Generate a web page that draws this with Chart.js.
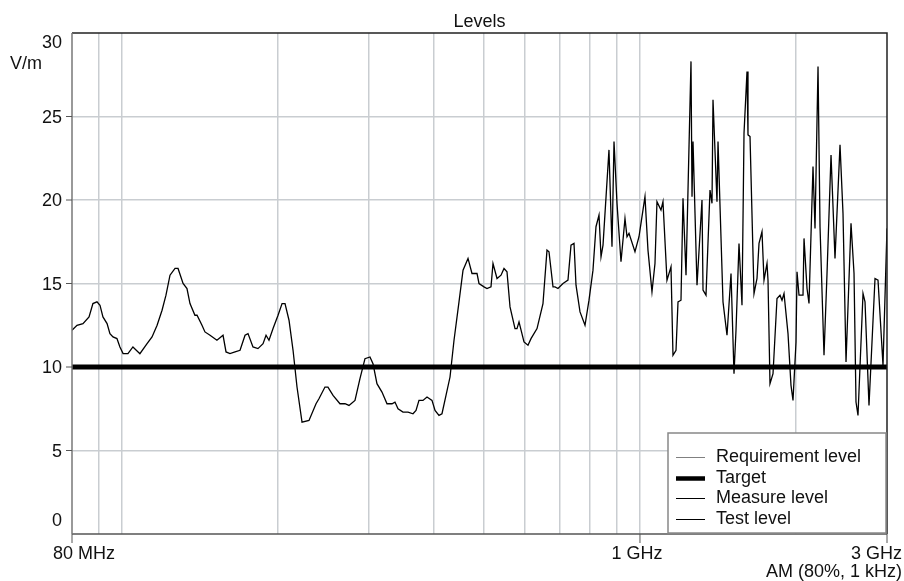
<!DOCTYPE html>
<html>
<head>
<meta charset="utf-8">
<title>Levels</title>
<script src="https://cdn.jsdelivr.net/npm/chart.js@4.4.1/dist/chart.umd.min.js"></script>
<style>
  html, body { margin: 0; padding: 0; background: #fff; }
</style>
</head>
<body>
<canvas id="myChart" width="904" height="581"></canvas>
<script>
// frequencies of the measured sweep, MHz
var freqMHz = [
  80, 81.8, 84.0, 86.3, 87.8, 89.4, 90.6, 91.8, 93.5, 94.7,
  96.0, 97.7, 99.0, 100.4, 102.6, 104.9, 108.2, 111.7, 114.2, 116.8,
  119.4, 121.5, 123.7, 126.5, 128.2, 131.1, 133.4, 135.2, 138.2, 139.5,
  142.6, 144.5, 147.8, 152.4, 156.6, 158.7, 161.5, 165.2, 168.9, 172.7,
  175.0, 178.9, 182.9, 187.1, 189.6, 192.1, 195.6, 200.0, 203.6, 206.3,
  210.0, 213.8, 217.6, 222.5, 229.5, 236.8, 239.9, 246.4, 249.7, 255.4,
  263.4, 269.4, 274.2, 281.6, 287.9, 294.4, 301.0, 305.1, 310.5, 317.5,
  324.7, 332.0, 336.4, 341.0, 348.6, 356.5, 364.5, 369.4, 374.3, 381.0,
  387.9, 396.6, 402.0, 409.1, 414.6, 422.1, 429.7, 437.4, 447.2, 455.3,
  465.5, 473.8, 484.5, 488.8, 499.8, 506.5, 515.6, 520.2, 529.6, 539.1,
  546.3, 553.6, 561.1, 573.7, 578.8, 584.0, 597.1, 607.8, 616.0, 632.7,
  649.7, 661.4, 667.3, 679.3, 685.4, 694.5, 710.2, 726.1, 735.9, 745.8,
  752.5, 766.0, 783.2, 797.2, 811.5, 822.4, 833.5, 841.0, 848.5, 871.3,
  883.1, 891.0, 902.9, 919.1, 935.6, 944.0, 952.4, 978.1, 995.7, 1004.6,
  1022.6, 1036.3, 1054.9, 1069.1, 1078.6, 1098.0, 1107.8, 1127.7, 1148.0, 1158.2,
  1173.9, 1184.4, 1200.2, 1211.0, 1227.3, 1254.8, 1260.5, 1266.1, 1288.8, 1317.7,
  1323.7, 1341.4, 1365.5, 1377.7, 1383.8, 1408.6, 1415.0, 1446.7, 1472.7, 1499.2,
  1519.3, 1532.8, 1553.4, 1574.3, 1588.4, 1609.7, 1616.8, 1631.4, 1660.7, 1682.9,
  1698.0, 1720.7, 1736.1, 1759.5, 1767.3, 1783.0, 1807.1, 1839.4, 1864.2, 1880.8,
  1897.7, 1931.7, 1957.6, 1975.1, 2001.7, 2010.7, 2028.6, 2065.0, 2074.2, 2102.1,
  2120.7, 2158.8, 2178.1, 2207.5, 2227.2, 2267.0, 2297.6, 2338.9, 2380.6, 2434.3,
  2466.9, 2500.2, 2556.3, 2590.8, 2613.7, 2637.0, 2696.5, 2720.6, 2769.2, 2844.2,
  2882.5, 2947.2, 3000
];
// measured field strength, V/m
var measureLevel = [
  12.2, 12.5, 12.6, 13.0, 13.8, 13.9, 13.7, 13.0, 12.6, 12.0,
  11.8, 11.7, 11.2, 10.8, 10.8, 11.2, 10.8, 11.4, 11.8, 12.5,
  13.4, 14.3, 15.5, 15.9, 15.9, 15.0, 14.7, 13.8, 13.1, 13.1,
  12.5, 12.1, 11.9, 11.6, 11.9, 10.9, 10.8, 10.9, 11.0, 11.9,
  12.0, 11.2, 11.1, 11.4, 11.9, 11.6, 12.3, 13.1, 13.8, 13.8,
  12.8, 11.0, 8.8, 6.7, 6.8, 7.8, 8.1, 8.8, 8.8, 8.3,
  7.8, 7.8, 7.7, 8.0, 9.3, 10.5, 10.6, 10.2, 9.0, 8.5,
  7.8, 7.8, 7.9, 7.5, 7.3, 7.3, 7.2, 7.4, 8.0, 8.0,
  8.2, 8.0, 7.4, 7.1, 7.2, 8.3, 9.4, 11.6, 13.9, 15.8,
  16.5, 15.6, 15.6, 15.0, 14.8, 14.7, 14.8, 16.2, 15.3, 15.5,
  15.9, 15.7, 13.6, 12.3, 12.3, 12.7, 11.5, 11.3, 11.7, 12.3,
  13.8, 17.0, 16.9, 14.8, 14.8, 14.7, 15.0, 15.2, 17.3, 17.4,
  14.9, 13.3, 12.5, 14.0, 15.8, 18.4, 19.1, 16.6, 17.3, 23.0,
  17.2, 23.5, 19.8, 16.3, 18.9, 17.8, 18.0, 16.9, 17.8, 18.6,
  20.2, 17.0, 14.5, 16.2, 19.9, 19.4, 19.9, 15.2, 16.0, 10.7,
  11.0, 13.9, 14.0, 20.1, 15.5, 28.3, 20.2, 23.5, 14.9, 20.0,
  14.6, 14.3, 20.6, 19.8, 26.0, 19.9, 23.5, 13.9, 11.9, 15.6,
  9.6, 12.2, 17.4, 13.7, 24.0, 27.7, 23.9, 23.8, 14.4, 15.3,
  17.4, 18.1, 15.2, 16.2, 15.2, 9.0, 9.6, 14.1, 14.3, 14.0,
  14.4, 12.0, 8.9, 8.0, 11.5, 15.7, 14.3, 14.3, 17.7, 14.7,
  13.8, 22.0, 18.3, 28.0, 18.4, 10.7, 15.6, 22.7, 16.5, 23.3,
  19.2, 10.3, 18.6, 15.6, 7.9, 7.1, 14.4, 13.9, 7.7, 15.3,
  15.2, 10.1, 18.3
];
var targetLevel = 10;
var requirementLevel = 10;
var testLevel = 10;

// axis
var gridFreqs = [80, 90, 100, 200, 300, 400, 500, 600, 700, 800, 900, 1000, 2000, 3000];
var xLabelFreqs = [80, 1000, 3000];
var xLabelTexts = ["80 MHz", "1 GHz", "3 GHz"];
var yTicks = [0, 5, 10, 15, 20, 25, 30];

var FONT = '18px "Liberation Sans", Arial, sans-serif';
var GRID = "#c9cdd1";

function flatLine(v) {
  return [{ x: 80, y: v }, { x: 3000, y: v }];
}

var measurePoints = freqMHz.map(function (f, i) {
  return { x: f, y: measureLevel[i] };
});

var decor = {
  id: "decor",
  afterDraw: function (chart) {
    var ctx = chart.ctx;
    var a = chart.chartArea;
    var xs = chart.scales.x;
    var ys = chart.scales.y;
    ctx.save();

    // frame
    ctx.lineWidth = 1.5;
    ctx.strokeStyle = "#222";
    ctx.beginPath();
    ctx.moveTo(a.left, a.top); ctx.lineTo(a.right, a.top); ctx.lineTo(a.right, a.bottom);
    ctx.stroke();
    ctx.strokeStyle = "#555";
    ctx.beginPath();
    ctx.moveTo(a.right, a.bottom); ctx.lineTo(a.left, a.bottom);
    ctx.stroke();
    ctx.strokeStyle = "#777";
    ctx.beginPath();
    ctx.moveTo(a.left, a.bottom); ctx.lineTo(a.left, a.top);
    ctx.stroke();

    ctx.fillStyle = "#111";
    ctx.font = FONT;

    // title
    ctx.textAlign = "center";
    ctx.fillText("Levels", (a.left + a.right) / 2, 27);

    // y ticks
    ctx.textAlign = "right";
    ctx.strokeStyle = "#555";
    ctx.lineWidth = 1;
    yTicks.forEach(function (v) {
      var py = ys.getPixelForValue(v);
      var base = py + 6;
      if (v === 30) base = py + 15;
      if (v === 0) base = py - 8;
      if (v !== 0 && v !== 30) {
        ctx.beginPath();
        ctx.moveTo(a.left - 6, py); ctx.lineTo(a.left, py);
        ctx.stroke();
      }
      ctx.fillText(String(v), a.left - 10, base);
    });
    ctx.textAlign = "left";
    ctx.fillText("V/m", 10, 69);

    // x ticks
    xLabelFreqs.forEach(function (f, i) {
      var px = xs.getPixelForValue(f);
      ctx.beginPath();
      ctx.moveTo(px, a.bottom); ctx.lineTo(px, a.bottom + 9);
      ctx.stroke();
      if (i === 0) { ctx.textAlign = "left"; ctx.fillText(xLabelTexts[i], px - 19, 559); }
      else if (i === xLabelFreqs.length - 1) { ctx.textAlign = "right"; ctx.fillText(xLabelTexts[i], px + 15, 559); }
      else { ctx.textAlign = "center"; ctx.fillText(xLabelTexts[i], px - 3, 559); }
    });
    ctx.textAlign = "right";
    ctx.fillText("AM (80%, 1 kHz)", a.right + 15, 577);

    // legend
    var bx = 668, by = 433, bw = 218, bh = 100;
    ctx.fillStyle = "#fff";
    ctx.fillRect(bx, by, bw, bh);
    ctx.strokeStyle = "#888";
    ctx.lineWidth = 1.5;
    ctx.strokeRect(bx, by, bw, bh);
    ctx.textAlign = "left";
    chart.data.datasets.forEach(function (ds, i) {
      var base = 462 + i * 20.5;
      var ly = Math.round(base - 5) + 0.5;
      ctx.strokeStyle = ds.borderColor;
      ctx.lineWidth = ds.label === "Target" ? 4.5 : 1;
      ctx.beginPath();
      ctx.moveTo(676, ly); ctx.lineTo(705, ly);
      ctx.stroke();
      ctx.fillStyle = "#111";
      ctx.fillText(ds.label, 716, base);
    });
    ctx.restore();
  }
};

new Chart("myChart", {
  type: "line",
  data: {
    datasets: [
      { label: "Requirement level", data: flatLine(requirementLevel), borderColor: "#808080", borderWidth: 1, pointRadius: 0, order: 3 },
      { label: "Target", data: flatLine(targetLevel), borderColor: "#000", borderWidth: 5, pointRadius: 0, order: 0 },
      { label: "Measure level", data: measurePoints, borderColor: "#000", borderWidth: 1.3, pointRadius: 0, order: 1 },
      { label: "Test level", data: flatLine(testLevel), borderColor: "#000", borderWidth: 1, pointRadius: 0, order: 2 }
    ]
  },
  options: {
    responsive: false,
    animation: false,
    layout: { padding: { left: 72, right: 17, top: 33, bottom: 47 } },
    plugins: { legend: { display: false }, title: { display: false }, tooltip: { enabled: false } },
    elements: { line: { tension: 0 } },
    scales: {
      x: {
        type: "logarithmic",
        min: 80,
        max: 3000,
        afterBuildTicks: function (s) {
          s.ticks = gridFreqs.map(function (v) { return { value: v }; });
        },
        ticks: { display: false },
        border: { display: false },
        grid: {
          drawTicks: false,
          lineWidth: 1.5,
          color: function (c) {
            var v = c.tick ? c.tick.value : 0;
            return (v === 80 || v === 3000) ? "rgba(0,0,0,0)" : GRID;
          }
        }
      },
      y: {
        min: 0,
        max: 30,
        afterBuildTicks: function (s) {
          s.ticks = yTicks.map(function (v) { return { value: v }; });
        },
        ticks: { display: false },
        border: { display: false },
        grid: {
          drawTicks: false,
          lineWidth: 1.5,
          color: function (c) {
            var v = c.tick ? c.tick.value : 0;
            return (v === 0 || v === 30) ? "rgba(0,0,0,0)" : GRID;
          }
        }
      }
    }
  },
  plugins: [decor]
});
</script>
</body>
</html>
